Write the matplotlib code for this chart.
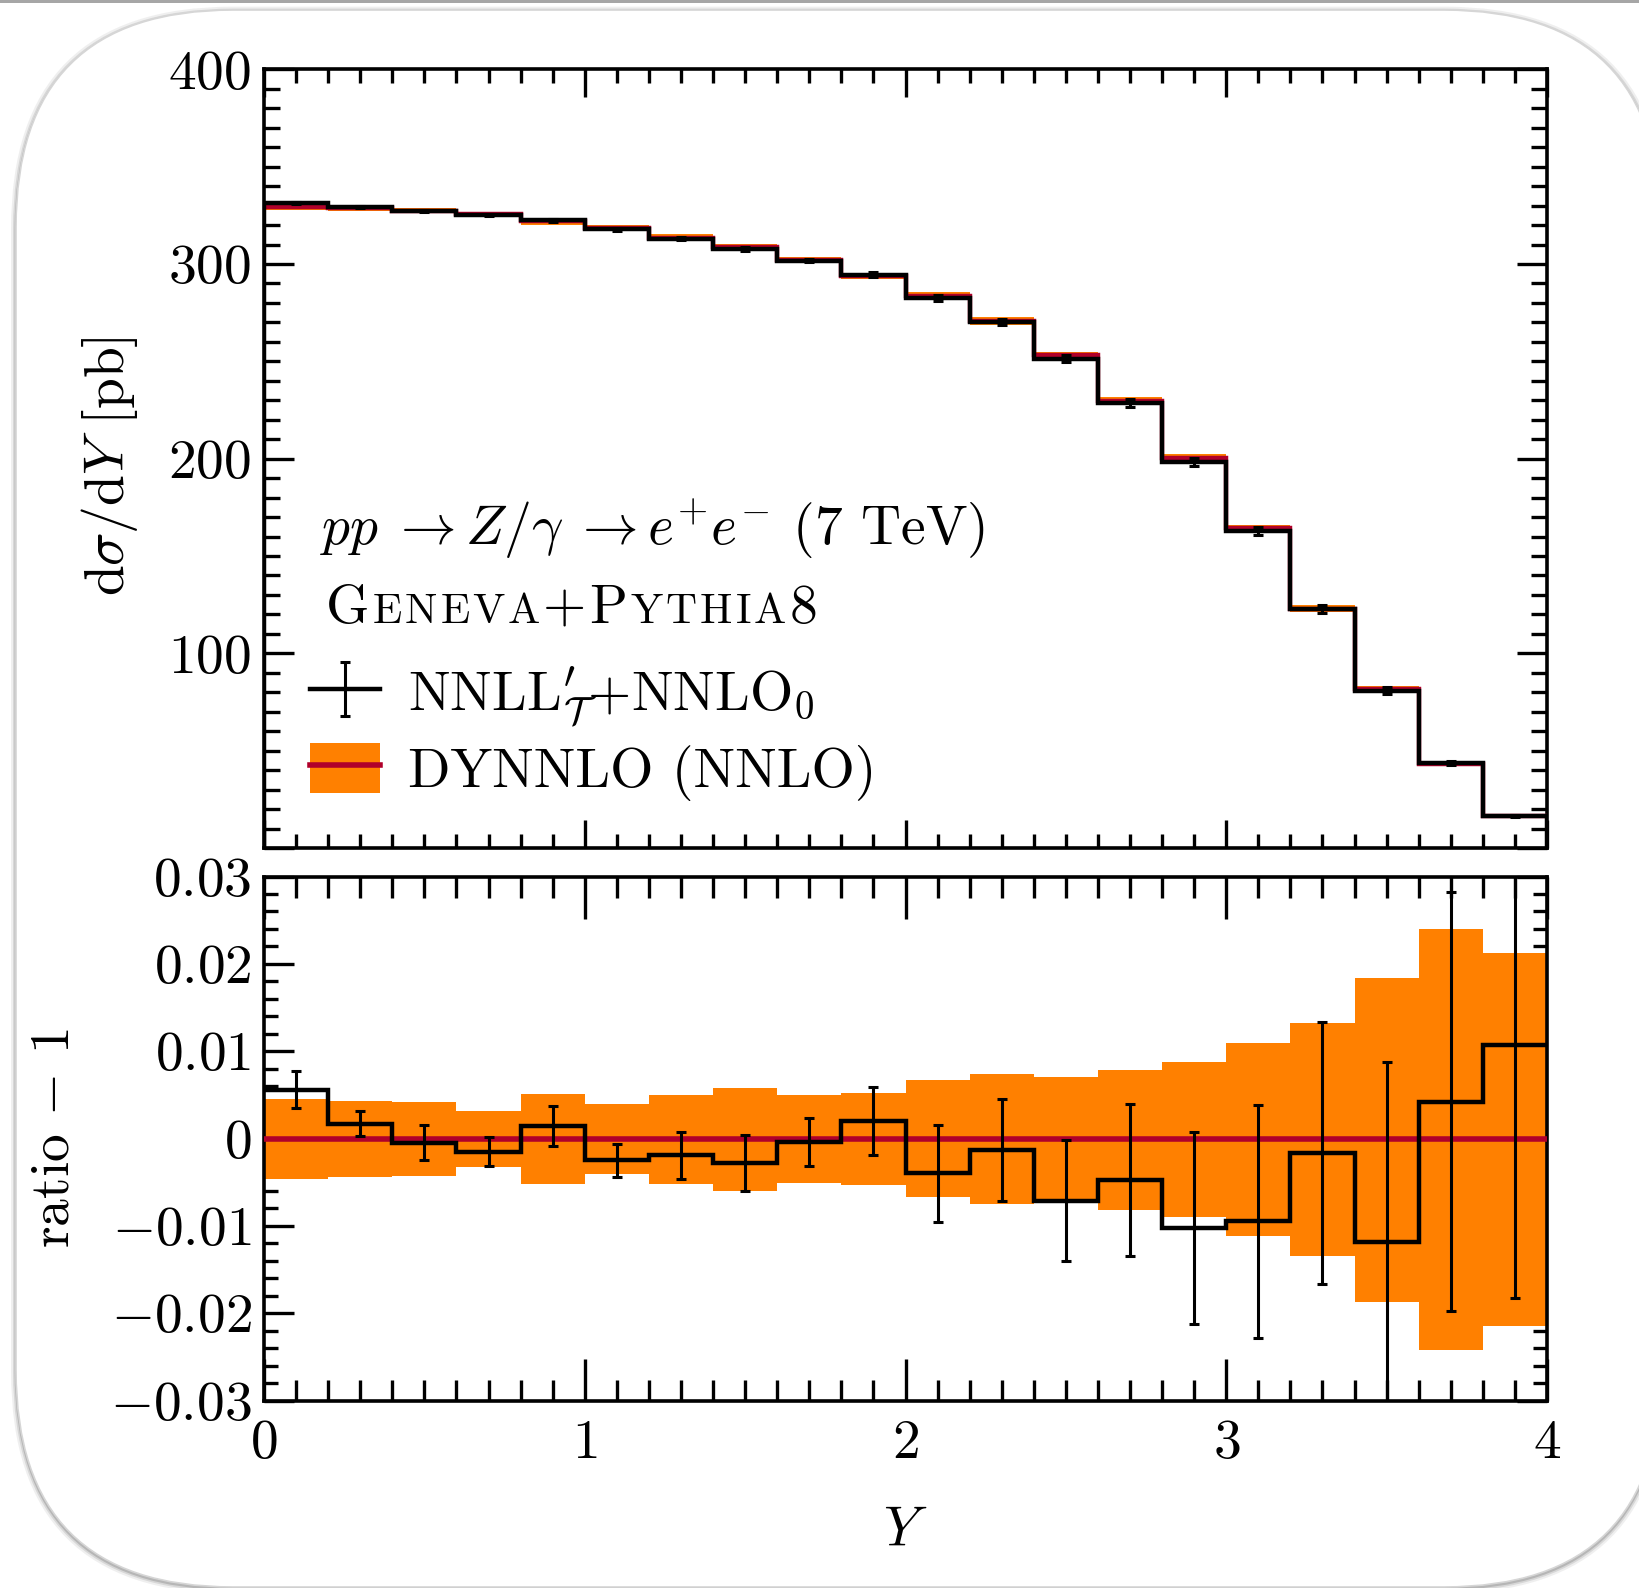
import numpy as np
import matplotlib
matplotlib.use("Agg")
import matplotlib.pyplot as plt
from matplotlib.ticker import MultipleLocator, FuncFormatter
from matplotlib.patches import FancyBboxPatch, Rectangle, Patch
from matplotlib.lines import Line2D
from matplotlib.container import ErrorbarContainer
from matplotlib.legend_handler import HandlerErrorbar, HandlerTuple
from matplotlib.offsetbox import TextArea, HPacker, AnnotationBbox

plt.rcParams['font.family'] = 'cmr10'
plt.rcParams['mathtext.fontset'] = 'cm'
plt.rcParams['axes.unicode_minus'] = False

# ---- data -------------------------------------------------------------
bin_edges = [0.0, 0.2, 0.4, 0.6, 0.8, 1.0, 1.2, 1.4, 1.6, 1.8, 2.0,
             2.2, 2.4, 2.6, 2.8, 3.0, 3.2, 3.4, 3.6, 3.8, 4.0]

# GENEVA+PYTHIA8 dsigma/dY [pb]
geneva = [331.3, 329.4, 327.2, 325.0, 322.4, 317.8, 313.0, 307.7, 301.7, 294.5,
          282.6, 270.2, 251.3, 228.7, 198.4, 162.8, 122.8, 80.8, 43.5, 16.4]

# GENEVA / DYNNLO - 1 and its statistical error
ratio = [0.0056, 0.0017, -0.0005, -0.0015, 0.0014, -0.0025, -0.0019, -0.0028, -0.0004, 0.0020,
         -0.0040, -0.0013, -0.0071, -0.0048, -0.0102, -0.0095, -0.0017, -0.0118, 0.0042, 0.0107]
ratio_err = [0.0021, 0.0014, 0.0020, 0.0017, 0.0023, 0.0019, 0.0027, 0.0032, 0.0027, 0.0039,
             0.0056, 0.0058, 0.0069, 0.0087, 0.0110, 0.0133, 0.0150, 0.0206, 0.0240, 0.0290]

# DYNNLO relative scale band
band_up = [0.0045, 0.0043, 0.0042, 0.0031, 0.0051, 0.0039, 0.0050, 0.0058, 0.0050, 0.0052,
           0.0067, 0.0074, 0.0071, 0.0079, 0.0088, 0.0109, 0.0132, 0.0184, 0.0240, 0.0212]
band_dn = [0.0046, 0.0044, 0.0043, 0.0033, 0.0052, 0.0041, 0.0052, 0.0060, 0.0051, 0.0053,
           0.0067, 0.0075, 0.0073, 0.0082, 0.0090, 0.0112, 0.0134, 0.0187, 0.0242, 0.0215]

edges = np.array(bin_edges)
centers = 0.5 * (edges[1:] + edges[:-1])
geneva = np.array(geneva)
ratio = np.array(ratio)
ratio_err = np.array(ratio_err)
band_up = np.array(band_up)
band_dn = np.array(band_dn)

dynnlo = geneva / (1 + ratio)
geneva_err = geneva * ratio_err

ORANGE = '#FF8000'
RED = '#B0002A'

# ---- figure -----------------------------------------------------------
fig = plt.figure(figsize=(8.2, 7.94), dpi=200, facecolor='white')

# slide-like rounded frame
tr = fig.dpi_scale_trans
bx, by, bw, bh, rad = 0.08, 0.005, 8.225, 7.885, 1.085
for grow, alpha in [(0.025, 0.10), (0.015, 0.18), (0.007, 0.30)]:
    sh = FancyBboxPatch((bx - grow, by - grow - 0.008), bw + 2 * grow, bh + 2 * grow,
                        boxstyle=f"round,pad=0,rounding_size={rad + grow}",
                        transform=tr, facecolor='#6a6a6a', edgecolor='none',
                        alpha=alpha, zorder=-12)
    fig.add_artist(sh)
frame = FancyBboxPatch((bx, by), bw, bh, boxstyle=f"round,pad=0,rounding_size={rad}",
                       transform=tr, facecolor='white', edgecolor='#d6d6d6',
                       linewidth=0.6, zorder=-11)
fig.add_artist(frame)
fig.add_artist(Rectangle((0, 7.926), 8.2, 0.014, transform=tr, facecolor='#a6a6a6',
                         edgecolor='none', zorder=-10))

ax1 = fig.add_axes([0.16098, 0.46599, 0.78232, 0.49037])
ax2 = fig.add_axes([0.16098, 0.11807, 0.78232, 0.32997])
for ax in (ax1, ax2):
    ax.set_facecolor('white')
    for s in ax.spines.values():
        s.set_linewidth(1.3)

# upper panel
ax1.stairs(dynnlo * (1 + band_up), edges, baseline=dynnlo * (1 - band_dn), fill=True,
           color=ORANGE, linewidth=0, zorder=2)
ax1.stairs(dynnlo, edges, baseline=None, color=RED, linewidth=1.6, zorder=3)
ax1.stairs(geneva, edges, baseline=0, color='black', linewidth=1.6, zorder=4)
eb = ax1.errorbar(centers, geneva, yerr=geneva_err, fmt='none', ecolor='black',
                  elinewidth=1.1, capsize=1.8, capthick=1.1, zorder=5)

# lower panel
ax2.stairs(band_up, edges, baseline=-band_dn, fill=True, color=ORANGE, linewidth=0, zorder=2)
ax2.stairs(np.zeros_like(ratio), edges, baseline=None, color=RED, linewidth=2.0, zorder=3)
ax2.stairs(ratio, edges, baseline=None, color='black', linewidth=1.6, zorder=4)
ax2.errorbar(centers, ratio, yerr=ratio_err, fmt='none', ecolor='black',
             elinewidth=1.1, capsize=1.8, capthick=1.1, zorder=5)

# axes ranges and ticks
ax1.set_xlim(0, 4)
ax1.set_ylim(0, 400)
ax2.set_xlim(0, 4)
ax2.set_ylim(-0.03, 0.03)

for ax in (ax1, ax2):
    ax.xaxis.set_major_locator(MultipleLocator(1))
    ax.xaxis.set_minor_locator(MultipleLocator(0.1))
    ax.tick_params(which='both', direction='in', top=True, right=True, width=1.2,
                   labelsize=20)
ax1.yaxis.set_major_locator(MultipleLocator(100))
ax1.yaxis.set_minor_locator(MultipleLocator(10))
ax2.yaxis.set_major_locator(MultipleLocator(0.01))
ax2.yaxis.set_minor_locator(MultipleLocator(0.002))

ax1.tick_params(axis='x', which='major', length=10)
ax1.tick_params(axis='x', which='minor', length=5)
ax1.tick_params(axis='y', which='major', length=10.8, pad=4.5)
ax1.tick_params(axis='y', which='minor', length=5.6)
ax2.tick_params(axis='x', which='major', length=15, pad=6.8)
ax2.tick_params(axis='x', which='minor', length=7.5)
ax2.tick_params(axis='y', which='major', length=10.8, pad=4.5)
ax2.tick_params(axis='y', which='minor', length=5.2)

ax1.xaxis.set_major_formatter(FuncFormatter(lambda v, p: ''))
ax1.yaxis.set_major_formatter(FuncFormatter(lambda v, p: '' if abs(v) < 1e-9 else f'${v:.0f}$'))


def ratio_fmt(v, p):
    s = f'{v:.2f}'.rstrip('0').rstrip('.')
    if s in ('0', '-0', ''):
        s = '0'
    return f'${s}$'


ax2.yaxis.set_major_formatter(FuncFormatter(ratio_fmt))
ax2.xaxis.set_major_formatter(FuncFormatter(lambda v, p: f'${v:.0f}$'))

ax1.set_ylabel(r'$\mathrm{d}\sigma/\mathrm{d}Y$ [pb]', fontsize=20)
ax1.yaxis.set_label_coords(-0.0966, 0.491)
ax2.set_ylabel(r'ratio $-$ 1', fontsize=20)
ax2.yaxis.set_label_coords(-0.144, 0.5)
ax2.set_xlabel(r'$Y$', fontsize=20)
ax2.xaxis.set_label_coords(0.5, -0.203)

# annotations
ax1.text(0.0436, 0.3904,
         r'$pp\hspace{0.26}\to Z/\gamma\hspace{0.26}\to e^{{+}}e^{{-}}$ (7 TeV)',
         transform=ax1.transAxes, fontsize=20, ha='left', va='baseline')

# Geneva+Pythia8 in (faked) small caps
parts = [('G', 20), ('E', 15.5), ('N', 15.5), ('E', 15.5), ('V', 15.5), ('A', 15.5),
         ('+', 20), ('P', 20), ('Y', 15.5), ('T', 15.5), ('H', 15.5), ('I', 15.5),
         ('A', 15.5), ('8', 20)]
hp = HPacker(children=[TextArea(t, textprops=dict(fontsize=s, color='black')) for t, s in parts],
             align='baseline', pad=0, sep=1.1)
ax1.add_artist(AnnotationBbox(hp, (0.0483, 0.2752), xycoords='axes fraction',
                              box_alignment=(0, 0), frameon=False, pad=0))

geneva_handle = (Line2D([], [], color='black', linewidth=1.6), eb)
dynnlo_handle = (Patch(facecolor=ORANGE, edgecolor='none'),
                 Line2D([], [], color=RED, linewidth=2.0))
ax1.legend([geneva_handle, dynnlo_handle],
           [r'NNLL$^{\prime}_{\mathcal{T}}$+NNLO$_0$', 'DYNNLO (NNLO)'],
           handler_map={ErrorbarContainer: HandlerErrorbar(yerr_size=0.48),
                        tuple: HandlerTuple(ndivide=1)},
           loc='upper left', bbox_to_anchor=(0.0359, 0.2342), frameon=False,
           fontsize=20, handlelength=1.26, handleheight=1.0, handletextpad=0.5,
           labelspacing=0.245, borderpad=0, borderaxespad=0)

fig.savefig('out.png', dpi=200, facecolor='white')
